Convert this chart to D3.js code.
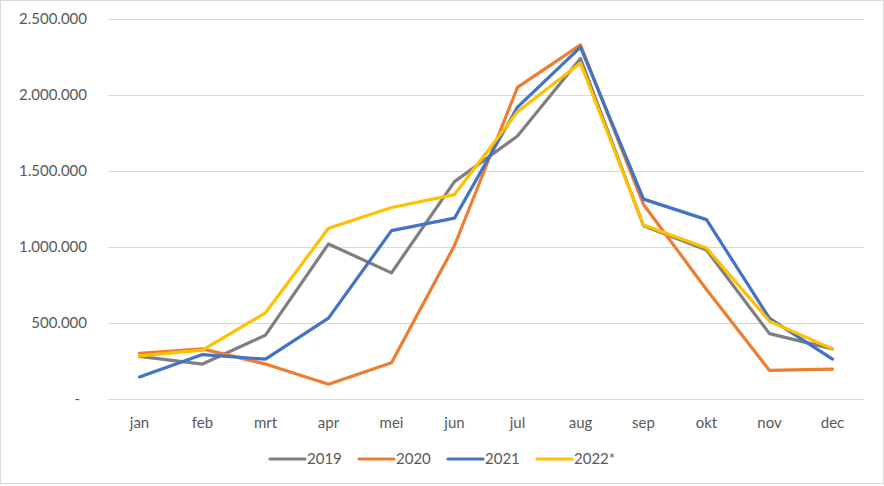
<!DOCTYPE html>
<html>
<head>
<meta charset="utf-8">
<script src="https://cdn.jsdelivr.net/npm/d3@7"></script>
<style>
  body { margin: 0; background: #fff; }
  svg text { font-family: Lato, "Open Sans", sans-serif; fill: #595959; }
</style>
</head>
<body>
<svg id="chart" width="884" height="486"></svg>
<script>
// maanden
var months = ['jan', 'feb', 'mrt', 'apr', 'mei', 'jun', 'jul', 'aug', 'sep', 'okt', 'nov', 'dec'];

var y2019 = [280000, 230000, 420000, 1020000, 830000, 1430000, 1730000, 2240000, 1140000, 980000, 430000, 330000];
var y2020 = [300000, 330000, 230000, 97000, 238000, 1010000, 2050000, 2330000, 1280000, 720000, 188000, 196000];
var y2021 = [145000, 292000, 262000, 532000, 1108000, 1190000, 1920000, 2315000, 1315000, 1180000, 530000, 262000];
var y2022 = [284000, 322000, 567000, 1123000, 1260000, 1345000, 1890000, 2210000, 1145000, 993000, 512000, 330000];

var seriesNames = ['2019', '2020', '2021', '2022*'];
var seriesColors = ['#7f7f7f', '#ed7d31', '#4472c4', '#ffc000'];
var yTicks = [0, 500000, 1000000, 1500000, 2000000, 2500000];

var series = [y2019, y2020, y2021, y2022].map(function(vals, i) {
    return { name: seriesNames[i], color: seriesColors[i], values: vals };
});

var svg = d3.select('#chart');

// kader
svg.append('rect')
    .attr('x', 0.5).attr('y', 0.5)
    .attr('width', 883).attr('height', 483)
    .attr('fill', 'none')
    .attr('stroke', '#d9d9d9');

var plotLeft = 108, plotRight = 864, plotTop = 19, plotBottom = 399;

var x = d3.scaleBand().domain(months).range([plotLeft, plotRight]);
var y = d3.scaleLinear().domain([0, 2500000]).range([plotBottom, plotTop]);

var fmt = function(v) {
    if (v === 0) return '-';
    return d3.format(',')(v).replace(/,/g, '.');
};

// rasterlijnen
svg.append('g')
    .selectAll('line')
    .data(yTicks)
    .enter()
    .append('line')
    .attr('x1', plotLeft).attr('x2', plotRight)
    .attr('y1', function(d) { return Math.round(y(d)) + 0.5; })
    .attr('y2', function(d) { return Math.round(y(d)) + 0.5; })
    .attr('stroke', '#d9d9d9')
    .attr('stroke-width', 1);

svg.append('g')
    .selectAll('text')
    .data(yTicks)
    .enter()
    .append('text')
    .attr('x', function(d) { return d === 0 ? 80 : 87; })
    .attr('y', function(d) { return y(d); })
    .attr('dy', '0.35em')
    .attr('text-anchor', 'end')
    .style('font-size', '15px')
    .text(fmt);

svg.append('g')
    .selectAll('text')
    .data(months)
    .enter()
    .append('text')
    .attr('x', function(d) { return x(d) + x.bandwidth() / 2; })
    .attr('y', 423)
    .attr('dy', '0.35em')
    .attr('text-anchor', 'middle')
    .style('font-size', '15px')
    .text(function(d) { return d; });

var line = d3.line()
    .x(function(d, i) { return x(months[i]) + x.bandwidth() / 2; })
    .y(function(d) { return y(d); });

svg.append('g')
    .selectAll('path')
    .data(series)
    .enter()
    .append('path')
    .attr('d', function(s) { return line(s.values); })
    .attr('fill', 'none')
    .attr('stroke', function(s) { return s.color; })
    .attr('stroke-width', 3.2)
    .attr('stroke-linejoin', 'round')
    .attr('stroke-linecap', 'round');

// legenda
var legendX = [270, 359, 448, 537];
var legend = svg.append('g')
    .selectAll('g')
    .data(series)
    .enter()
    .append('g')
    .attr('transform', function(s, i) { return 'translate(' + legendX[i] + ',459)'; });

legend.append('line')
    .attr('x1', 0).attr('x2', 35)
    .attr('stroke', function(s) { return s.color; })
    .attr('stroke-width', 3.2)
    .attr('stroke-linecap', 'round');

legend.append('text')
    .attr('x', 37)
    .attr('dy', '0.35em')
    .style('font-size', '15px')
    .text(function(s) { return s.name; });
</script>
</body>
</html>
